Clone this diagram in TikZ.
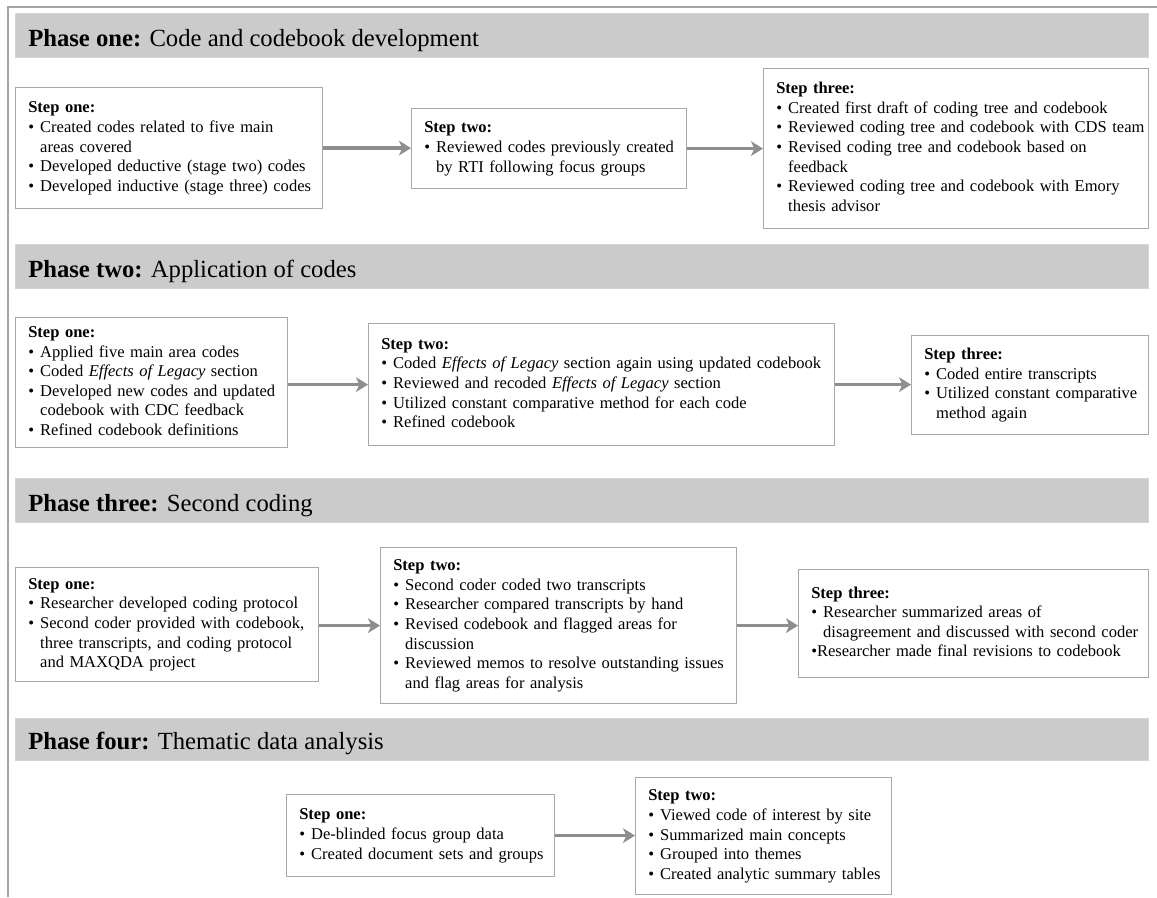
\documentclass[tikz,border=0pt]{standalone}
\usepackage{fontspec}
\setmainfont{Liberation Serif}
\usetikzlibrary{arrows.meta}
\definecolor{bargray}{HTML}{CBCBCB}
\definecolor{boxgray}{HTML}{A8A8A8}
\definecolor{arrgray}{HTML}{8E8E8E}
\definecolor{framegray}{HTML}{A4A4A4}
\newcommand{\bl}{\makebox[0.72em][l]{\textbullet}}
\newcommand{\ind}{\hspace*{0.72em}}
\newcommand{\mkstep}[6]{%
  \pgfmathsetlengthmacro\mytw{0.75pt*#4-19pt}%
  \pgfmathsetlengthmacro\mymw{0.75pt*#4}%
  \pgfmathsetlengthmacro\mymh{0.75pt*#5}%
  \node[stepbox, minimum width=\mymw, minimum height=\mymh, text width=\mytw] (#1) at (#2,#3) {\begin{tabular}{@{}l@{}}#6\end{tabular}};}
\newcommand{\mkbar}[4]{%
  \pgfmathsetlengthmacro\mymh{0.75pt*#3}%
  \node[phasebar, minimum height=\mymh] (#1) at (15,#2) {};
  \node[phasetext] (#1t) at ([xshift=9.75pt,yshift=8pt]#1.south west) {#4};}
\tikzset{
  stepbox/.style={draw=boxgray, line width=0.9pt, fill=white, anchor=north west,
    inner xsep=9.5pt, inner ysep=2pt, align=left,
    font=\fontsize{12.4}{14.7}\selectfont},
  phasebar/.style={fill=bargray, draw=bargray!80!white, line width=0.4pt, anchor=north west,
    minimum width=849.75pt, inner sep=0pt},
  phasetext/.style={anchor=base west, inner sep=0pt, font=\fontsize{18.5}{22}\selectfont},
  arr/.style={draw=arrgray, line width=2.6pt, -{Stealth[length=9pt,width=11pt,inset=2.5pt]}},
  frameline/.style={draw=framegray, line width=1.3pt}
}
\begin{document}
\begin{tikzpicture}[x=0.75pt,y=-0.75pt]
\useasboundingbox (0,0) rectangle (1157,897);
\fill[white] (0,0) rectangle (1157,897);
\coordinate (fa) at (8,897);
\coordinate (fb) at (8,7);
\coordinate (fc) at (1157,7);
\draw[frameline] (fa) -- (fb) -- (fc);

% Phase one
\mkbar{bar1}{13}{44}{\textbf{Phase one:} Code and codebook development}
\mkstep{p1s1}{15}{87}{307}{121}{\textbf{Step one:}\\ \bl Created codes related to five main\\ \ind areas covered\\ \bl Developed deductive (stage two) codes\\ \bl Developed inductive (stage three) codes}
\mkstep{p1s2}{411}{108}{275}{80}{\textbf{Step two:}\\ \bl Reviewed codes previously created\\ \ind by RTI following focus groups}
\mkstep{p1s3}{763}{68}{385}{160}{\textbf{Step three:}\\ \bl Created first draft of coding tree and codebook\\ \bl Reviewed coding tree and codebook with CDS team\\ \bl Revised coding tree and codebook based on\\ \ind feedback\\ \bl Reviewed coding tree and codebook with Emory\\ \ind thesis advisor}
\draw[arr] (p1s1.east) -- (p1s1.east -| p1s2.west);
\draw[arr] (p1s2.east) -- (p1s2.east -| p1s3.west);

% Phase two
\mkbar{bar2}{244}{44}{\textbf{Phase two:} Application of codes}
\mkstep{p2s1}{15}{317}{272}{130}{\textbf{Step one:}\\ \bl Applied five main area codes\\ \bl Coded \textit{Effects of Legacy} section\\ \bl Developed new codes and updated\\ \ind codebook with CDC feedback\\ \bl Refined codebook definitions}
\mkstep{p2s2}{368}{323}{466}{122}{\textbf{Step two:}\\ \bl Coded \textit{Effects of Legacy} section again using updated codebook\\ \bl Reviewed and recoded \textit{Effects of Legacy} section\\ \bl Utilized constant comparative method for each code\\ \bl Refined codebook}
\mkstep{p2s3}{911}{335}{237}{99}{\textbf{Step three:}\\ \bl Coded entire transcripts\\ \bl Utilized constant comparative\\ \ind method again}
\draw[arr] (p2s1.east |- p2s2.west) -- (p2s2.west);
\draw[arr] (p2s2.east) -- (p2s2.east -| p2s3.west);

% Phase three
\mkbar{bar3}{478}{44}{\textbf{Phase three:} Second coding}
\mkstep{p3s1}{15}{567}{303}{114}{\textbf{Step one:}\\ \bl Researcher developed coding protocol\\ \bl Second coder provided with codebook,\\ \ind three transcripts, and coding protocol\\ \ind and MAXQDA project}
\mkstep{p3s2}{380}{547}{356}{156}{\textbf{Step two:}\\ \bl Second coder coded two transcripts\\ \bl Researcher compared transcripts by hand\\ \bl Revised codebook and flagged areas for\\ \ind discussion\\ \bl Reviewed memos to resolve outstanding issues\\ \ind and flag areas for analysis}
\mkstep{p3s3}{798}{569}{350}{108}{\textbf{Step three:}\\ \bl Researcher summarized areas of\\ \ind disagreement and discussed with second coder\\ \textbullet Researcher made final revisions to codebook}
\draw[arr] (p3s1.east |- p3s2.west) -- (p3s2.west);
\draw[arr] (p3s2.east) -- (p3s2.east -| p3s3.west);

% Phase four
\mkbar{bar4}{718}{42}{\textbf{Phase four:} Thematic data analysis}
\mkstep{p4s1}{286}{794}{268}{82}{\textbf{Step one:}\\ \bl De-blinded focus group data\\ \bl Created document sets and groups}
\mkstep{p4s2}{635}{777}{256}{117}{\textbf{Step two:}\\ \bl Viewed code of interest by site\\ \bl Summarized main concepts\\ \bl Grouped into themes\\ \bl Created analytic summary tables}
\draw[arr] (p4s1.east) -- (p4s1.east -| p4s2.west);
\end{tikzpicture}
\end{document}
